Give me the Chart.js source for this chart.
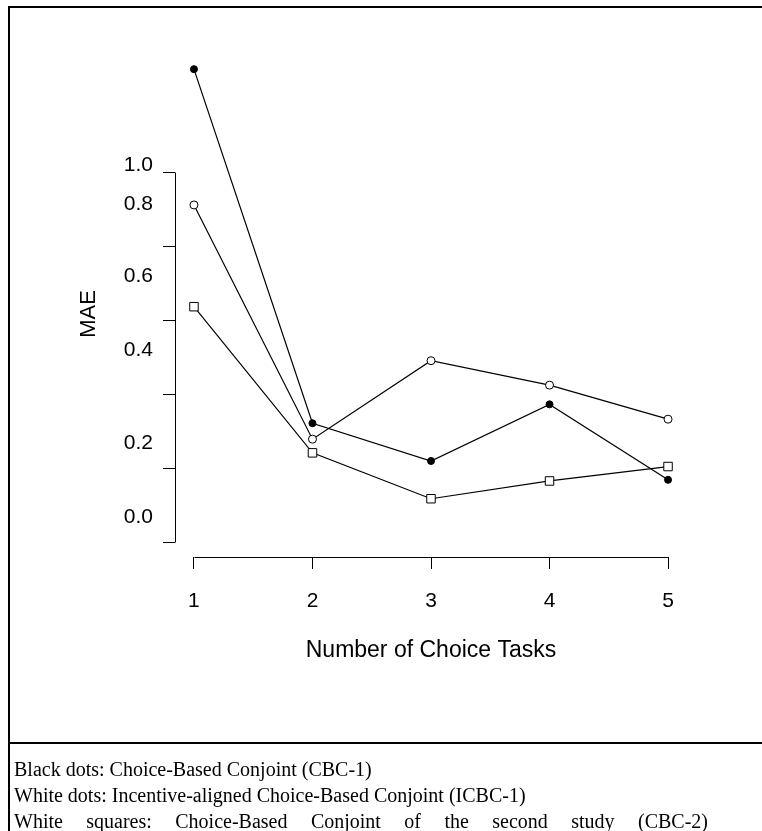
<!DOCTYPE html>
<html lang="en">
<head>
  <meta charset="UTF-8">
  <title>MAE by Number of Choice Tasks</title>
  <script src="https://cdn.jsdelivr.net/npm/chart.js"></script>
  <style>
    * {
      box-sizing: border-box;
      margin: 0;
      padding: 0;
    }

    body {
      width: 762px;
      height: 831px;
      background: #fff;
      position: relative;
      overflow: hidden;
    }

    .chart-wrap {
      position: absolute;
      left: 0;
      top: 0;
      width: 762px;
      height: 743px;
    }

    .frame {
      position: absolute;
      left: 8px;
      top: 6px;
      right: 0;
      bottom: 0;
      border-left: 2px solid #000;
      border-top: 2px solid #000;
      pointer-events: none;
    }

    .divider {
      position: absolute;
      left: 8px;
      right: 0;
      top: 742px;
      height: 2px;
      background: #000;
    }

    .caption {
      position: absolute;
      left: 14px;
      top: 756px;
      width: 694px;
      font-family: 'Liberation Serif', 'Times New Roman', serif;
      font-size: 20px;
      line-height: 26px;
      color: #000;
    }

    /* last visible line is a wrapped line of a justified paragraph */
    .caption .wrapped {
      text-align: justify;
      text-align-last: justify;
    }
  </style>
</head>
<body>
  <div class="chart-wrap">
    <canvas id="maeChart" width="762" height="743"></canvas>
  </div>
  <div class="frame"></div>
  <div class="divider"></div>
  <div class="caption">
    <div>Black dots: Choice-Based Conjoint (CBC-1)</div>
    <div>White dots: Incentive-aligned Choice-Based Conjoint (ICBC-1)</div>
    <div class="wrapped">White squares: Choice-Based Conjoint of the second study (CBC-2)</div>
  </div>

  <script>
    const taskCounts = [1, 2, 3, 4, 5];
    const cbc1 = [1.278, 0.321, 0.219, 0.372, 0.168];
    const icbc1 = [0.911, 0.278, 0.490, 0.424, 0.332];
    const cbc2 = [0.636, 0.241, 0.117, 0.165, 0.204];

    const yTicks = [0, 0.2, 0.4, 0.6, 0.8, 1.0];
    const yTickLabels = ["0.0", "0.2", "0.4", "0.6", "0.8", "1.0"];
    // in the original the printed labels drift away from their tick marks
    const yLabelAt = [0.068, 0.266, 0.519, 0.719, 0.914, 1.019];

    const Y_MIN = -0.0405, Y_MAX = 1.273;
    const sans = "'Liberation Sans', Arial, sans-serif";

    const toPoints = vals => taskCounts.map((t, i) => ({ x: t, y: vals[i] }));

    // R style axes: the axis line only runs between the first and last tick
    const rAxes = {
      id: "rAxes",
      afterDraw(chart) {
        const { ctx, chartArea, scales: { x, y } } = chart;
        const ax = Math.round(chartArea.left) + 0.5;
        const ay = Math.round(chartArea.bottom) + 0.5;
        ctx.save();
        ctx.strokeStyle = "#000";
        ctx.lineWidth = 1;
        ctx.beginPath();
        ctx.moveTo(ax, Math.round(y.getPixelForValue(yTicks[0])) + 0.5);
        ctx.lineTo(ax, Math.round(y.getPixelForValue(yTicks[yTicks.length - 1])) + 0.5);
        ctx.moveTo(Math.round(x.getPixelForValue(taskCounts[0])) + 0.5, ay);
        ctx.lineTo(Math.round(x.getPixelForValue(taskCounts[taskCounts.length - 1])) + 0.5, ay);
        ctx.stroke();
        ctx.restore();
      }
    };

    const tickGrid = {
      drawOnChartArea: false,
      drawTicks: true,
      tickLength: 12,
      color: "#000",
      lineWidth: 1
    };

    new Chart(document.getElementById("maeChart"), {
      type: "line",
      data: {
        datasets: [
          {
            label: "CBC-1",
            data: toPoints(cbc1),
            borderColor: "#000",
            borderWidth: 1.2,
            pointStyle: "circle",
            pointRadius: 3.5,
            pointBackgroundColor: "#000",
            pointBorderColor: "#000",
            pointBorderWidth: 1,
            clip: false
          },
          {
            label: "ICBC-1",
            data: toPoints(icbc1),
            borderColor: "#000",
            borderWidth: 1.2,
            pointStyle: "circle",
            pointRadius: 4,
            pointBackgroundColor: "#fff",
            pointBorderColor: "#000",
            pointBorderWidth: 1,
            clip: false
          },
          {
            label: "CBC-2",
            data: toPoints(cbc2),
            borderColor: "#000",
            borderWidth: 1.2,
            pointStyle: "rect",
            pointRadius: 6,
            pointBackgroundColor: "#fff",
            pointBorderColor: "#000",
            pointBorderWidth: 1,
            clip: false
          }
        ]
      },
      options: {
        responsive: false,
        animation: false,
        layout: { padding: { left: 0, top: 71, right: 75, bottom: 0 } },
        plugins: {
          legend: { display: false },
          tooltip: { enabled: false }
        },
        scales: {
          x: {
            type: "linear",
            min: 0.84,
            max: 5.16,
            afterBuildTicks: s => { s.ticks = taskCounts.map(v => ({ value: v })); },
            afterFit: s => { s.height = 186; },
            border: { display: false },
            grid: tickGrid,
            ticks: {
              color: "#000",
              font: { family: sans, size: 21 },
              padding: 20,
              autoSkip: false,
              maxRotation: 0
            },
            title: {
              display: true,
              text: "Number of Choice Tasks",
              color: "#000",
              font: { family: sans, size: 23 },
              padding: { top: 0, bottom: 79 }
            }
          },
          y: {
            type: "linear",
            position: "left",
            weight: 0,
            min: Y_MIN,
            max: Y_MAX,
            afterBuildTicks: s => { s.ticks = yTicks.map(v => ({ value: v })); },
            afterFit: s => { s.width = 22; },
            border: { display: false },
            grid: tickGrid,
            ticks: { callback: () => "" }
          },
          yLab: {
            type: "linear",
            position: "left",
            weight: 1,
            min: Y_MIN,
            max: Y_MAX,
            afterBuildTicks: s => { s.ticks = yLabelAt.map(v => ({ value: v })); },
            afterFit: s => { s.width = 153; },
            border: { display: false },
            grid: { display: false, drawTicks: false },
            ticks: {
              color: "#000",
              font: { family: sans, size: 21 },
              padding: 0,
              autoSkip: false,
              callback: (v, i) => yTickLabels[i]
            },
            title: {
              display: true,
              text: "MAE",
              color: "#000",
              font: { family: sans, size: 22 },
              padding: { top: 76, bottom: 0 }
            }
          }
        }
      },
      plugins: [rAxes]
    });
  </script>
</body>
</html>
